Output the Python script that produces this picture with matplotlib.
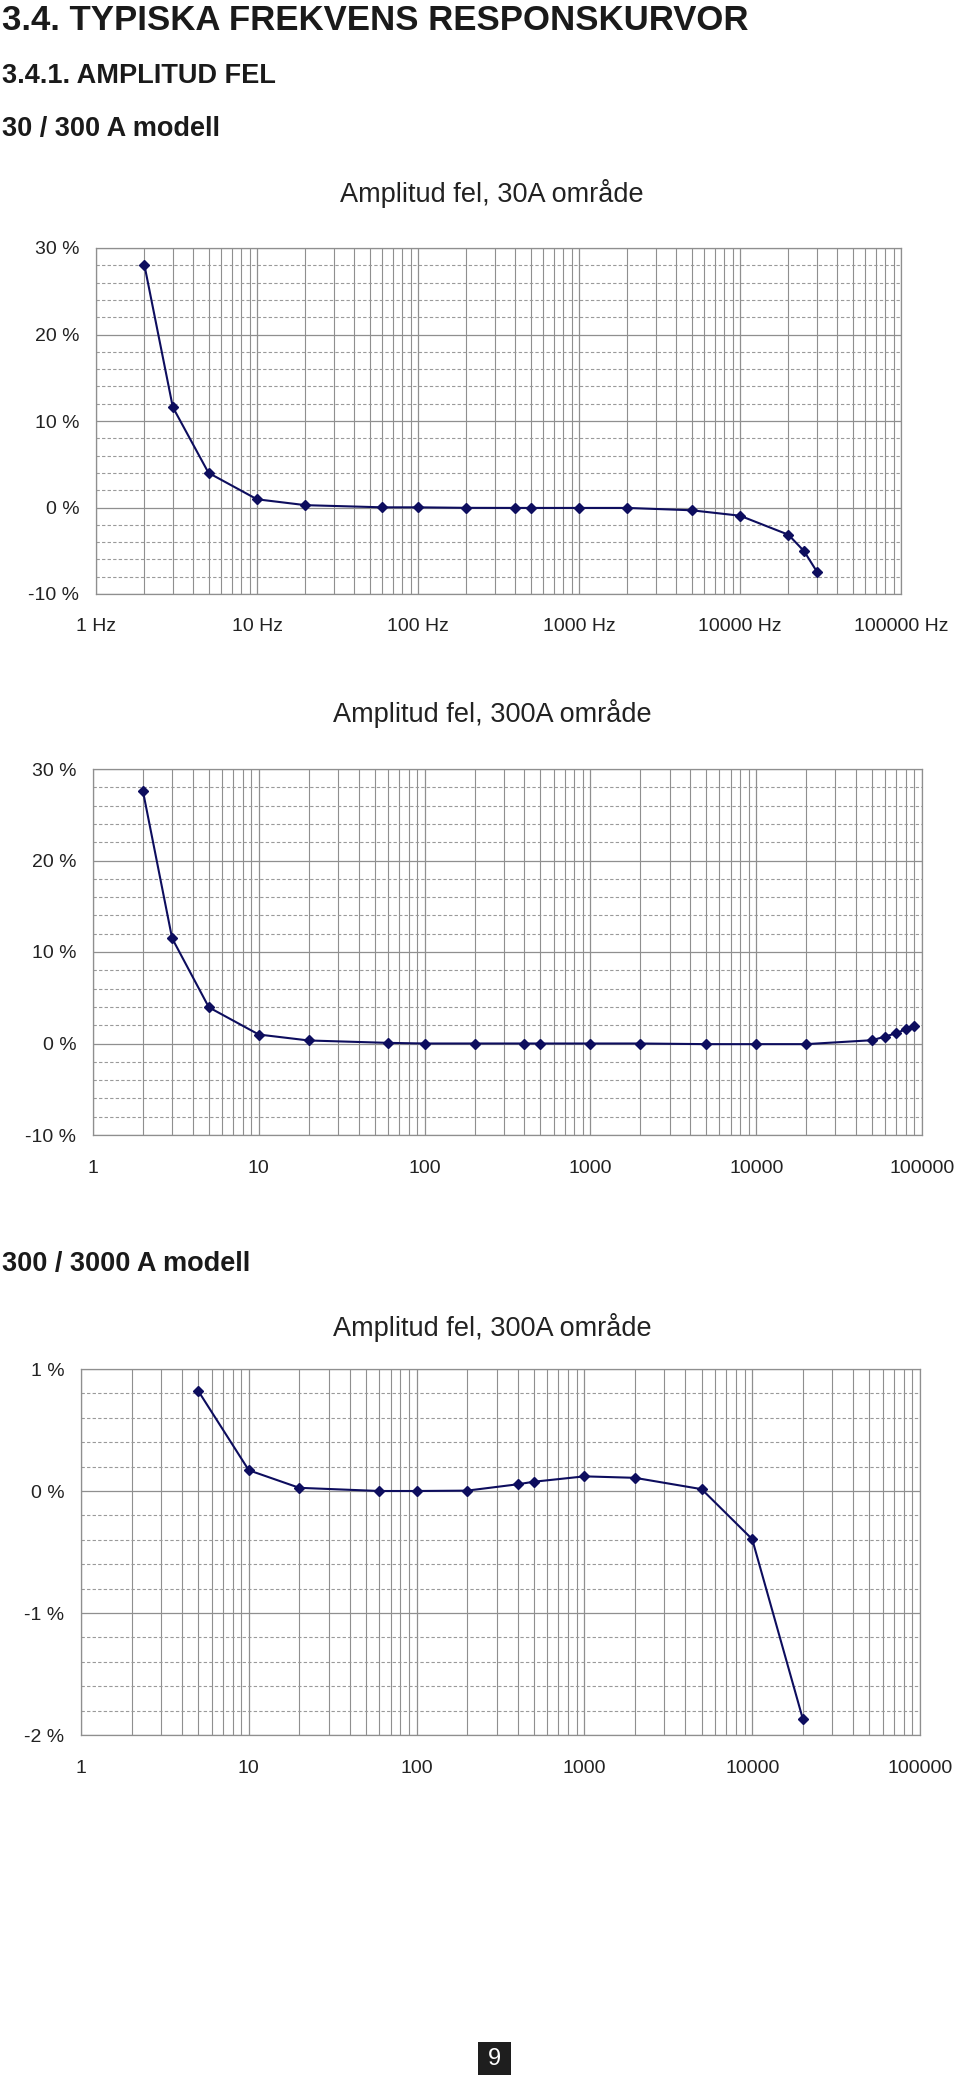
import numpy as np
import matplotlib
matplotlib.use("Agg")
import matplotlib.pyplot as plt
from matplotlib.ticker import LogLocator, MultipleLocator, FixedLocator, NullFormatter

plt.rcParams['font.family'] = ['Liberation Sans', 'DejaVu Sans']

# Data (frequency in Hz, amplitude error in %)
f_30a = [2, 3, 5, 10, 20, 60, 100, 200, 400, 500, 1000, 2000, 5000, 10000, 20000, 25000, 30000]
err_30a = [28.0, 11.6, 4.0, 0.95, 0.27, 0.02, 0.02, -0.04, -0.05, -0.05, -0.05, -0.05,
           -0.32, -0.95, -3.15, -5.05, -7.4]

f_300a = [2, 3, 5, 10, 20, 60, 100, 200, 400, 500, 1000, 2000, 5000, 10000, 20000,
          50000, 60000, 70000, 80000, 90000]
err_300a = [27.6, 11.5, 3.95, 0.98, 0.33, 0.07, 0.0, 0.0, 0.0, 0.0, 0.0, 0.0, -0.07, -0.07, -0.07,
            0.36, 0.76, 1.13, 1.57, 1.86]

f_3000 = [5, 10, 20, 60, 100, 200, 400, 500, 1000, 2000, 5000, 10000, 20000]
err_3000 = [0.82, 0.17, 0.026, 0.0, 0.0, 0.003, 0.055, 0.076, 0.12, 0.108, 0.015, -0.395, -1.865]

decades = [1, 10, 100, 1000, 10000, 100000]
xlab_hz = ["1 Hz", "10 Hz", "100 Hz", "1000 Hz", "10000 Hz", "100000 Hz"]
xlab_plain = ["1", "10", "100", "1000", "10000", "100000"]

W, H = 960, 2075
fig = plt.figure(figsize=(W / 100, H / 100), dpi=100)

LINE = '#0d0d5e'
GRID = '#8f8f8f'


def make_axes(box, f, err, yticks, yminor, xlabels, xpad):
    l, t, r, b = box
    ax = fig.add_axes([l / W, 1 - b / H, (r - l) / W, (b - t) / H])
    ax.set_xscale('log')
    ax.set_xlim(1, 100000)
    ax.set_ylim(yticks[0], yticks[-1])
    ax.xaxis.set_major_locator(FixedLocator(decades))
    ax.set_xticklabels(xlabels)
    ax.xaxis.set_minor_locator(LogLocator(base=10, subs=np.arange(2, 10)))
    ax.xaxis.set_minor_formatter(NullFormatter())
    ax.set_yticks(yticks)
    ax.set_yticklabels(["%d %%" % v for v in yticks])
    ax.yaxis.set_minor_locator(MultipleLocator(yminor))
    ax.grid(True, which='major', axis='both', color=GRID, lw=0.9)
    ax.grid(True, which='minor', axis='x', color=GRID, lw=0.8)
    ax.grid(True, which='minor', axis='y', color='#9a9a9a', lw=0.8, linestyle=(0, (3, 2)))
    ax.tick_params(which='both', length=0, labelsize=14, colors='#222222')
    ax.tick_params(axis='y', pad=12)
    ax.tick_params(axis='x', pad=xpad)
    for s in ax.spines.values():
        s.set_color(GRID)
        s.set_linewidth(0.9)
    ax.set_axisbelow(True)
    ax.plot(f, err, color=LINE, lw=1.5, marker='D', markersize=5, clip_on=False, zorder=3)
    return ax


make_axes((96, 248, 901, 594), f_30a, err_30a, [-10, 0, 10, 20, 30], 2, xlab_hz, 17)
make_axes((93, 769, 922, 1135), f_300a, err_300a, [-10, 0, 10, 20, 30], 2, xlab_plain, 18)
make_axes((81, 1369, 920, 1735), f_3000, err_3000, [-2, -1, 0, 1], 0.2, xlab_plain, 18)

# Headings
fig.text(2 / W, 1 - 20 / H, "3.4. TYPISKA FREKVENS RESPONSKURVOR", fontsize=25,
         fontweight='bold', va='center', ha='left', color='#1a1a1a')
fig.text(2 / W, 1 - 76 / H, "3.4.1. AMPLITUD FEL", fontsize=19.5,
         fontweight='bold', va='center', ha='left', color='#1a1a1a')
fig.text(2 / W, 1 - 129 / H, "30 / 300 A modell", fontsize=19.5,
         fontweight='bold', va='center', ha='left', color='#1a1a1a')
fig.text(2 / W, 1 - 1264 / H, "300 / 3000 A modell", fontsize=19.5,
         fontweight='bold', va='center', ha='left', color='#1a1a1a')

# Chart titles
fig.text(492 / W, 1 - 193 / H, "Amplitud fel, 30A område", fontsize=19.5,
         ha='center', va='center', color='#222222')
fig.text(492 / W, 1 - 714 / H, "Amplitud fel, 300A område", fontsize=19.5,
         ha='center', va='center', color='#222222')
fig.text(492 / W, 1 - 1327 / H, "Amplitud fel, 300A område", fontsize=19.5,
         ha='center', va='center', color='#222222')

# Page number box
fig.patches.append(plt.Rectangle((478 / W, 0), 33 / W, 33 / H, transform=fig.transFigure,
                                 facecolor='#1e1e1e', edgecolor='none'))
fig.text(494.5 / W, 16 / H, "9", fontsize=17, color='white', ha='center', va='center')

fig.savefig("out.png", dpi=100)
